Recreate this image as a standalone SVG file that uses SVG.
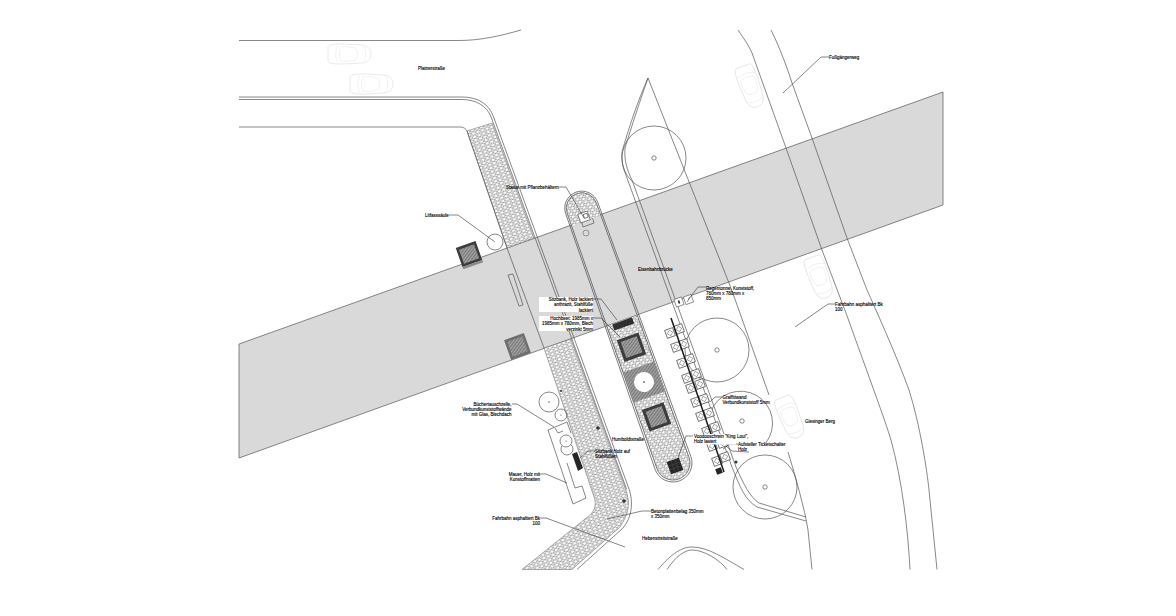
<svg xmlns="http://www.w3.org/2000/svg" width="1176" height="616" viewBox="0 0 1176 616">
<style>
.l{fill:none;stroke:#555;stroke-width:.7}
.ld{fill:none;stroke:#333;stroke-width:.6}
.t{font-family:"Liberation Sans",Arial,sans-serif;font-size:4.5px;fill:#000;stroke:#000;stroke-width:.12}
.r{text-anchor:end}
.car{fill:#fff;stroke:#d2d2d2;stroke-width:.5}
.car2{fill:none;stroke:#dcdcdc;stroke-width:.4}
.p{fill:url(#hex);stroke:#666;stroke-width:.5}
.rack{fill:#fff;stroke:#444;stroke-width:.7}
</style>
<defs>
<pattern id="hex" width="4.8" height="7" patternUnits="userSpaceOnUse" patternTransform="rotate(-19.7)">
<rect width="4.8" height="7" fill="#fff"/>
<path d="M2.4 0L4.8 1.2V2.300L2.4 3.500L0 2.300V1.200ZM2.4 3.500L0 4.700V5.800L2.4 7L4.800 5.800V4.700Z" fill="none" stroke="#555" stroke-width=".45"/>
</pattern>
<pattern id="hatch" width="1.4" height="1.4" patternUnits="userSpaceOnUse">
<rect width="1.4" height="1.4" fill="#a6a6a6"/>
<path d="M.35 0V1.4" stroke="#666" stroke-width=".5"/>
</pattern>
<g id="carS">
<path class="car" d="M-21 -6C-22 -9 -16 -10 -10 -10C-2 -10 4 -9.500 12 -9C18 -8.500 22 -6 22 0C22 6 18 8.500 12 9C4 9.500 -2 10 -10 10C-16 10 -22 9 -21 6Z"/>
<path class="car2" d="M-11 -9C-14 -3 -14 3 -11 9M-8 -7C-3 -8 3 -7 7 -5.500C9 -2 9 2 7 5.500C3 7 -3 8 -8 7C-10 3 -10 -3 -8 -7ZM15 -7.500C17 -3 17 3 15 7.500"/>
</g>
<g id="rackS"><rect class="rack" x="-4.200" y="-4.200" width="8.400" height="8.400"/><path d="M0 -2.800L2.800 0L0 2.800L-2.800 0Z" fill="none" stroke="#666" stroke-width=".5"/></g>
<g id="planter"><rect x="-11.500" y="-11.500" width="23" height="23" fill="#3c3c3c"/><rect x="-8.500" y="-8.500" width="17" height="17" fill="url(#hatch)"/></g>
</defs>
<rect width="1176" height="616" fill="#fff"/>
<g id="eisenbahnbruecke"><path d="M239 344L943 92V205L239 458Z" fill="#d9d9d9" stroke="#555" stroke-width=".7"/></g>

<g id="gehweg-oben"><path class="p" d="M467 131L492 123L534 238L507 248Z"/></g>
<g id="gehweg-unten"><path class="p" d="M544 348L571 339L626 490C630 502 630 512 620 527L572 569.500H522L590 515C596 509 596 503 594 497Z"/></g>

<g id="strassen">
<path class="l" d="M239 40.500H459C480 40.500 500 36 521 30"/>
<path class="l" d="M239 97H462C478 97 489 104 493.600 117L629 489C633 500 633 516 623 528L577 569.500"/>
<path class="l" d="M239 99.500H462C476 99.500 487 106 491.100 117L626.500 489"/>
<path class="l" d="M239 127H460C464 127 466 129 467 131L507 248L544 348"/>
<path class="l" d="M648 78L729 283L736 302L769 395M788 452C795 475 805 510 808 530L812 569.500"/>
<path class="l" d="M648 78C638 100 628 130 622 152C621 160 623 168 627 178L732 467C740 487 745 500 757 507L806 521"/>
<path class="l" d="M648 78C641 98 631 128 625 148C624 160 627 170 632 180L736 467C744 485 750 497 759 503L806 517"/>
<path class="l" d="M738 30C745 40 750 48 752 53L786 148L822 250L846 313C870 380 885 420 891 440C902 480 908 530 910 569.500"/>
<path class="l" d="M771 30C780 48 788 70 792 83L812 138L847 238L867 290C885 330 900 365 909 390C920 425 927 470 929 490L937 569.500"/>
<path class="l" d="M658 569.500C672 553 682 547 692 547C708 547 724 558 744 569.500"/>
<path class="l" d="M667 569.500C676 556 685 550 692 550C704 550 720 560 727 569.500"/>
</g>

<g id="insel" transform="translate(673 463) rotate(-19.700)">
<path d="M-17 -151H17V0A17 17 0 0 1 -17 0Z" fill="url(#hex)" stroke="none"/>
<path d="M-15.500 -257V-270.700A15.500 15.500 0 0 1 15.500 -270.700V-257Z" fill="url(#hex)" stroke="none"/>
<path class="l" d="M-19 0L-17 -270.700A17 17 0 0 1 17 -270.700L19 0A19 19 0 0 1 -19 0Z"/>
<path class="l" d="M-17 0L-15.500 -270.700A15.500 15.500 0 0 1 15.500 -270.700L17 0A17 17 0 0 1 -17 0Z"/>
</g>
<g id="sitzbank-insel" transform="translate(673 463) rotate(-19.700)"><rect x="-10.500" y="-151" width="21" height="6.500" fill="#2f2f2f"/></g>
<g id="hochbeet-1" transform="translate(673 463) rotate(-19.700) translate(0 -123)"><use href="#planter"/></g>
<g id="beet-mitte" transform="translate(673 463) rotate(-19.700) translate(0 -86)"><rect x="-17" y="-16" width="34" height="32" fill="url(#hatch)"/><circle r="10" fill="#fff"/><circle r=".8" fill="#333"/></g>
<g id="hochbeet-2" transform="translate(673 463) rotate(-19.700) translate(0 -49)"><use href="#planter"/></g>
<g id="voodooschrein" transform="translate(675 466) rotate(-19.700)"><rect x="-6.500" y="-6.500" width="13" height="13" fill="#262626"/><path d="M-2 -6.500V6.500M2 -6.500V6.500M-6.500 -2H6.500M-6.500 2H6.500" stroke="#555" stroke-width=".4"/></g>
<g id="statue"><g transform="translate(584 217) rotate(-19.700)"><rect x="-5" y="-4.500" width="10" height="9" fill="#fff" stroke="#444" stroke-width=".6"/><rect x="0" y="-2.500" width="4" height="4" fill="#fff" stroke="#333" stroke-width=".6"/></g><path class="l" d="M581.700 222L583 227L594 223L592.500 218"/></g>
<g id="insel-kreis"><circle cx="586" cy="233" r="3" fill="none" stroke="#666" stroke-width=".6"/></g>

<g id="baeume">
<circle class="l" cx="654" cy="158" r="32"/><circle class="l" cx="654" cy="158" r="2.200"/>
<circle class="l" cx="717" cy="350" r="32"/><circle class="l" cx="717" cy="350" r="2.200"/>
<path class="l" d="M710.700 411.700A32 32 0 1 1 765.700 443"/><circle class="l" cx="742" cy="421" r="2.200"/>
<circle class="l" cx="765" cy="487" r="32"/><circle class="l" cx="765" cy="487" r="2.200"/>
</g>

<g id="auto-1"><use href="#carS" transform="translate(349 54)"/></g>
<g id="auto-2"><use href="#carS" transform="translate(371 84)"/></g>
<g id="auto-3"><use href="#carS" transform="translate(750 86) rotate(70)"/></g>
<g id="auto-4"><use href="#carS" transform="translate(819 277) rotate(70)"/></g>
<g id="auto-5"><use href="#carS" transform="translate(790 417) rotate(68)"/></g>

<g id="hochbeet-links-1" transform="translate(469 254) rotate(-19.700)"><rect x="-10.500" y="-10" width="21" height="20" fill="#3c3c3c"/><rect x="-8" y="-7.500" width="16" height="15" fill="url(#hatch)"/><rect x="-10.500" y="10" width="21" height="2.500" fill="#8a8a8a"/></g>
<g id="hochbeet-links-2" transform="translate(517.500 346.500) rotate(-19.700)"><rect x="-10.500" y="-10.500" width="21" height="21" fill="#6e6e6e"/><rect x="-8" y="-8" width="16" height="16" fill="url(#hatch)"/></g>
<g id="litfasssaeule"><circle cx="495" cy="242" r="8" fill="#fff" stroke="#555" stroke-width=".7"/></g>
<g id="schlitz"><path class="l" d="M508 275L513 274L523 305L519 306Z"/></g>

<g id="buechertausch">
<circle class="l" cx="549" cy="402" r="10"/><circle cx="549" cy="402" r=".7" fill="#444"/>
<circle class="l" cx="561" cy="415" r="6"/><circle cx="561" cy="415" r=".6" fill="#444"/>
<path class="l" d="M548 430L567 422L571 433M558 433L555 428M558 433L563 431M548 430L573 504L586 498L582 486L575 488L567 463"/>
<circle class="l" cx="567" cy="449" r="6"/>
<circle cx="566" cy="441" r="6" fill="#fff" stroke="#555" stroke-width=".7"/><circle cx="566" cy="441" r=".6" fill="#444"/>
</g>
<g id="sitzbank-links"><path d="M572 454L577 452L583 468L578 471Z" fill="#262626"/></g>
<g id="punkte"><circle cx="561" cy="391" r="1" fill="#333"/><circle cx="598" cy="428" r="1.800" fill="#333"/><circle cx="624" cy="501" r="1.800" fill="#333"/><circle cx="736" cy="462" r="1.500" fill="#333"/></g>

<g id="regentonne"><g transform="translate(679 302) rotate(-19.700)"><rect x="-4" y="-4" width="8" height="8" fill="#fff" stroke="#555" stroke-width=".6"/><rect x="-.8" y="-1.500" width="1.600" height="3" fill="#222"/></g><g transform="translate(688.500 299.500) rotate(-19.700)"><rect x="-4" y="-4" width="8" height="8" fill="#fff" stroke="#555" stroke-width=".6"/><path d="M-2 2L2 -2" stroke="#444" stroke-width=".5"/></g></g>

<g id="fahrradstaender">
<use href="#rackS" transform="translate(670 333) rotate(-19.700)"/><use href="#rackS" transform="translate(679 329) rotate(-19.700)"/>
<use href="#rackS" transform="translate(676 347) rotate(-19.700)"/><use href="#rackS" transform="translate(684 344) rotate(-19.700)"/>
<use href="#rackS" transform="translate(682 363) rotate(-19.700)"/><use href="#rackS" transform="translate(690 359) rotate(-19.700)"/>
<use href="#rackS" transform="translate(687 378) rotate(-19.700)"/><use href="#rackS" transform="translate(696 374) rotate(-19.700)"/>
<use href="#rackS" transform="translate(691 388) rotate(-19.700)"/><use href="#rackS" transform="translate(700 384) rotate(-19.700)"/>
<use href="#rackS" transform="translate(696 402) rotate(-19.700)"/><use href="#rackS" transform="translate(704 399) rotate(-19.700)"/>
<use href="#rackS" transform="translate(701 416) rotate(-19.700)"/><use href="#rackS" transform="translate(709 413) rotate(-19.700)"/>
<use href="#rackS" transform="translate(707 431) rotate(-19.700)"/><use href="#rackS" transform="translate(715 427) rotate(-19.700)"/>
<use href="#rackS" transform="translate(712 446) rotate(-19.700)"/><use href="#rackS" transform="translate(722 443) rotate(-19.700)"/>
<use href="#rackS" transform="translate(717 461) rotate(-19.700)"/><use href="#rackS" transform="translate(725 457) rotate(-19.700)"/>
</g>
<g id="graffitiwand"><path d="M671 318L724 472" stroke="#1a1a1a" stroke-width="1.500" fill="none"/></g>
<g id="ticketschalter" transform="translate(719 471) rotate(-19.700)"><rect x="-3" y="-3" width="6" height="6" fill="#262626"/></g>

<g id="connectors">
<path class="ld" d="M783 93L821 57H829"/>
<path class="ld" d="M559 187H566L584 218"/>
<path class="ld" d="M449 215H458L495 242"/>
<path class="ld" d="M706 287H698L688 300"/>
<path class="ld" d="M795 327L828 304H835"/>
<path class="ld" d="M722 397H715L710 402"/>
<path class="ld" d="M694 436H686L675 466"/>
<path class="ld" d="M738 444H730L723 449"/>
<path class="ld" d="M749 452L732 451L726 446"/>
<path class="ld" d="M595 451H588L580 458"/>
<path class="ld" d="M651 511H642L607 519"/>
<path class="ld" d="M512 404H517L554 427"/>
<path class="ld" d="M540 474H546L567 483"/>
<path class="ld" d="M540 518H546L625 547"/>
<path class="ld" d="M593 299H601L617 320"/>
<path class="ld" d="M593 318H601L620 337"/>
</g>

<g id="labels">
<rect x="539" y="297" width="54" height="15" fill="#fff"/>
<rect x="539" y="316" width="54" height="15" fill="#fff"/>
<rect x="693" y="434" width="43" height="10.500" fill="#fff"/>
<text class="t" x="418" y="69.500">Platnerstraße</text>
<text class="t" x="829" y="59">Fußgängerweg</text>
<text class="t" x="506" y="188.500">Statue mit Pflanzbehältern</text>
<text class="t" x="425" y="216.500">Litfasssäule</text>
<text class="t" x="638" y="270.500">Eisenbahnbrücke</text>
<text class="t" x="706" y="289.500">Regentonne, Kunststoff,</text>
<text class="t" x="706" y="294.800">780mm x 780mm x</text>
<text class="t" x="706" y="300">850mm</text>
<text class="t" x="835" y="305.500">Fahrbahn asphaltiert Bk</text>
<text class="t" x="835" y="311">100</text>
<text class="t" x="805" y="422.500">Giesinger Berg</text>
<text class="t" x="722.500" y="398.500">Graffitiwand</text>
<text class="t" x="722.500" y="404">Verbundkunststoff 5mm</text>
<text class="t" x="694" y="437.500">Voodooschrein "King Loui",</text>
<text class="t" x="694" y="442.800">Holz lasiert</text>
<text class="t" x="738" y="445.500">Aufsteller Ticketschalter</text>
<text class="t" x="738" y="451">Holz</text>
<text class="t" x="612" y="440.500">Humboldtstraße</text>
<text class="t" x="595" y="452.500">Sitzbank Holz auf</text>
<text class="t" x="595" y="457.800">Stahlfüßen</text>
<text class="t" x="651" y="512.500">Betonplattenbelag 350mm</text>
<text class="t" x="651" y="518">x 350mm</text>
<text class="t" x="642" y="539.500">Hebenstreitstraße</text>
<text class="t r" x="511.500" y="405.500">Büchertauschzelle,</text>
<text class="t r" x="511.500" y="410.800">Verbundkunststoffwände</text>
<text class="t r" x="511.500" y="416">mit Glas, Blechdach</text>
<text class="t r" x="540" y="475.500">Mauer, Holz mit</text>
<text class="t r" x="540" y="480.800">Kunstoffmatten</text>
<text class="t r" x="540" y="519.500">Fahrbahn asphaltiert Bk</text>
<text class="t r" x="540" y="525">100</text>
<text class="t r" x="593" y="301">Sitzbank, Holz lackiert</text>
<text class="t r" x="593" y="306.300">anthrazit, Stahlfüße</text>
<text class="t r" x="593" y="311.500">lackiert</text>
<text class="t r" x="593" y="320">Hochbeet: 1985mm x</text>
<text class="t r" x="593" y="325.300">1985mm x 780mm, Blech</text>
<text class="t r" x="593" y="330.500">verzinkt 5mm</text>
</g>
</svg>
